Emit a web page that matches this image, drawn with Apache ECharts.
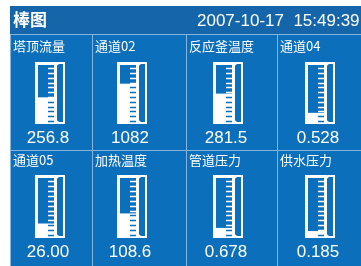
<!DOCTYPE html>
<html>
<head>
<meta charset="utf-8">
<script src="https://cdn.jsdelivr.net/npm/echarts@6/dist/echarts.min.js"></script>
<style>
html,body{margin:0;padding:0;background:#fff;}
#main{width:361px;height:266px;}
</style>
</head>
<body>
<div id="main"></div>
<script>
let headerTitle = '棒图';
let timeText = '2007-10-17  15:49:39';
let names = ['塔顶流量', '通道02', '反应釜温度', '通道04', '通道05', '加热温度', '管道压力', '供水压力'];
let valueText = ['256.8', '1082', '281.5', '0.528', '26.00', '108.6', '0.678', '0.185'];
let levels = [43, 65, 49, 18, 23, 39, 16, 11];   // 棒高 %

(function() {
    var chart = echarts.init(document.getElementById('main'));
    var BG = '#0c6fbb', HEAD = '#1465a9', LINE = '#86b4de';
    var colX = [10, 92, 186, 277];
    var tubeX = [35, 117, 213, 305];
    var rowY = [34, 150];
    var tubeY = [62, 175];
    var tubeH = [62, 63];
    var ticks = [];
    for (var t = 0; t < 12; t++) ticks.push(5 + t * 7.7);

    function renderGauge(params, api) {
        var lv = api.value(1);
        var top = api.coord([0, 100])[1];
        var bot = api.coord([0, 0])[1];
        var ly = api.coord([0, lv])[1];
        var cx = api.coord([0, 0])[0];
        var w = api.size([1, 0])[0];
        var x0 = cx - w / 2, x1 = cx + w / 2;
        var kids = [];
        kids.push({type: 'rect', shape: {x: x0, y: ly, width: w, height: bot - ly}, style: {fill: '#fff'}});
        kids.push({type: 'rect', shape: {x: x0 + 1.5, y: top + 1.5, width: w - 3, height: bot - top - 3},
            style: {fill: null, stroke: '#fff', lineWidth: 3}});
        ticks.forEach(function(v) {
            var y = Math.round(api.coord([0, v])[1]) + 0.5;
            kids.push({type: 'line', shape: {x1: x1 - 3, y1: y, x2: x1 - 9, y2: y},
                style: {stroke: v < lv ? BG : '#fff', lineWidth: 1.5}});
        });
        var bx = x1 + 7;
        kids.push({type: 'polyline', shape: {points: [[bx - 7, top + 3], [bx - 6, top + 1], [bx, top + 1],
            [bx, bot - 1], [bx - 6, bot - 1], [bx - 7, bot - 3]]},
            style: {fill: null, stroke: '#fff', lineWidth: 2}});
        kids.push({type: 'text', x: x0 + 13, y: bot + 14,
            style: {text: valueText[params.seriesIndex], fill: '#fff', font: '17px "Liberation Sans", Arial',
                align: 'center', verticalAlign: 'middle'}});
        return {type: 'group', children: kids};
    }

    var grids = [], xAxes = [], yAxes = [], series = [], graphic = [];
    graphic.push({type: 'rect', shape: {x: 10, y: 6, width: 351, height: 260}, style: {fill: BG}});
    graphic.push({type: 'rect', shape: {x: 10, y: 6, width: 351, height: 28}, style: {fill: HEAD}});
    graphic.push({type: 'text', x: 13, y: 20, style: {text: headerTitle, fill: '#fff',
        font: 'bold 17px "Noto Sans CJK SC"', verticalAlign: 'middle'}});
    graphic.push({type: 'text', x: 197, y: 21, style: {text: timeText, fill: '#fff',
        font: '17px "Liberation Sans", Arial', verticalAlign: 'middle'}});
    graphic.push({type: 'line', shape: {x1: 10, y1: 34.5, x2: 361, y2: 34.5}, style: {stroke: LINE, lineWidth: 1}});
    graphic.push({type: 'line', shape: {x1: 10, y1: 150.5, x2: 361, y2: 150.5}, style: {stroke: LINE, lineWidth: 1}});
    graphic.push({type: 'line', shape: {x1: 10.5, y1: 34, x2: 10.5, y2: 266}, style: {stroke: LINE, lineWidth: 1}});
    [92, 186, 277].forEach(function(x) {
        graphic.push({type: 'line', shape: {x1: x + 0.5, y1: 34, x2: x + 0.5, y2: 266}, style: {stroke: LINE, lineWidth: 1}});
    });

    for (var i = 0; i < names.length; i++) {
        var r = Math.floor(i / 4), c = i % 4;
        grids.push({left: tubeX[c], top: tubeY[r], width: 22, height: tubeH[r]});
        xAxes.push({type: 'category', gridIndex: i, data: [''], show: false});
        yAxes.push({type: 'value', gridIndex: i, min: 0, max: 100, show: false});
        series.push({type: 'custom', xAxisIndex: i, yAxisIndex: i, renderItem: renderGauge,
            data: [[0, levels[i]]], silent: true});
        graphic.push({type: 'text', x: colX[c] + 3, y: rowY[r] + (r === 0 ? 12 : 10), style: {text: names[i],
            fill: '#fff', font: '13px "Noto Sans CJK SC"', verticalAlign: 'middle'}});
    }

    chart.setOption({
        animation: false,
        grid: grids,
        xAxis: xAxes,
        yAxis: yAxes,
        series: series,
        graphic: graphic
    });
})();
</script>
</body>
</html>
